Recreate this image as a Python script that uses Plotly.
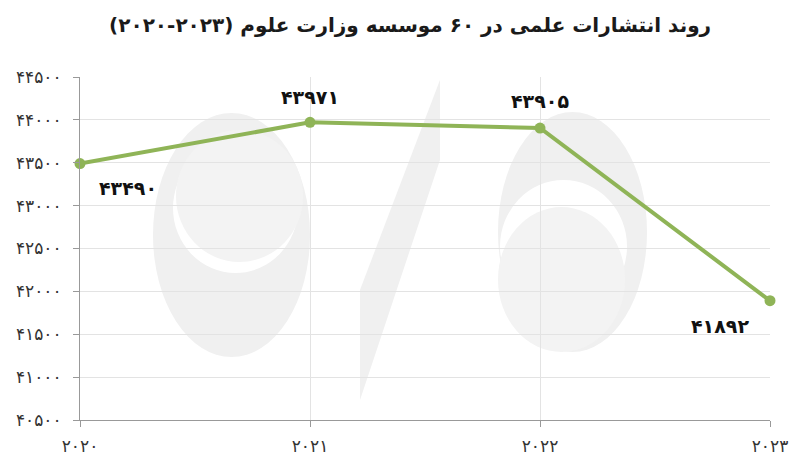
import plotly.graph_objects as go

# ---- data ----
years = [2020, 2021, 2022, 2023]
publications = [43490, 43971, 43905, 41892]
y_ticks = [40500, 41000, 41500, 42000, 42500, 43000, 43500, 44000, 44500]
title_text = "روند انتشارات علمی در ۶۰ موسسه وزارت علوم (۲۰۲۳-۲۰۲۰)\u200f"

FA = str.maketrans("0123456789", "۰۱۲۳۴۵۶۷۸۹")
def fa(n):
    return str(n).translate(FA)

FONT = "DejaVu Sans"
GREEN = "#8fb457"

fig = go.Figure()
fig.add_trace(go.Scatter(
    x=years, y=publications, mode="lines+markers",
    line=dict(color=GREEN, width=4),
    marker=dict(color=GREEN, size=11),
    cliponaxis=False, hoverinfo="skip", showlegend=False,
))

# data labels (offsets in px)
label_offsets = [(48, -24), (0, 25), (0, 27), (-50, -25)]
for x, y, (dx, dy) in zip(years, publications, label_offsets):
    fig.add_annotation(x=x, y=y, text=fa(y), showarrow=False,
                       xshift=dx, yshift=dy,
                       font=dict(family=FONT, size=19, color="#111", weight="bold"))

# faint watermark (decorative), in plot-area paper coords
def px(v):
    return (v - 80) / 690
def py(v):
    return (420 - v) / 343

def ell(x0, y0, x1, y1, color):
    fig.add_shape(type="circle", xref="paper", yref="paper",
                  x0=px(x0), x1=px(x1), y0=py(y1), y1=py(y0),
                  fillcolor=color, line=dict(width=0), layer="below")

ell(153, 113, 310, 357, "#f0f0f0")
ell(173, 143, 298, 273, "#ffffff")
ell(176, 130, 303, 262, "#f3f3f3")
ell(498, 112, 647, 352, "#f0f0f0")
ell(500, 180, 627, 313, "#ffffff")
ell(498, 207, 625, 352, "#f3f3f3")
pts = [(360, 290), (440, 80), (440, 160), (360, 400)]
path = "M " + " L ".join(f"{px(a):.4f},{py(b):.4f}" for a, b in pts) + " Z"
fig.add_shape(type="path", xref="paper", yref="paper", path=path,
              fillcolor="#f0f0f0", line=dict(width=0), layer="below")

fig.update_layout(
    width=801, height=469,
    margin=dict(l=80, r=31, t=77, b=49),
    paper_bgcolor="white", plot_bgcolor="white",
    title=dict(text=title_text, x=0.512, xref="container", xanchor="center",
               y=1 - 25 / 469, yref="container", yanchor="middle",
               font=dict(family=FONT, size=20, color="#1a1a1a", weight="bold")),
    font=dict(family=FONT, color="#333"),
)
fig.update_xaxes(
    range=[2020, 2023], tickvals=years, ticktext=[fa(v) for v in years],
    showgrid=True, gridcolor="#e3e3e3", gridwidth=1,
    showline=True, linecolor="#999", linewidth=1,
    ticks="outside", ticklen=6, tickcolor="#999", ticklabelstandoff=5,
    tickfont=dict(family=FONT, size=17, color="#333"),
    zeroline=False, fixedrange=True,
)
fig.update_yaxes(
    range=[40500, 44500], tickvals=y_ticks, ticktext=[fa(v) for v in y_ticks],
    showgrid=True, gridcolor="#e3e3e3", gridwidth=1,
    showline=True, linecolor="#999", linewidth=1,
    ticks="outside", ticklen=6, tickcolor="#999", ticklabelstandoff=8,
    tickfont=dict(family=FONT, size=17, color="#333"),
    zeroline=False, fixedrange=True,
)

fig.write_html("out.html", config={"displayModeBar": False},
               post_script="document.body.style.margin='0';")
